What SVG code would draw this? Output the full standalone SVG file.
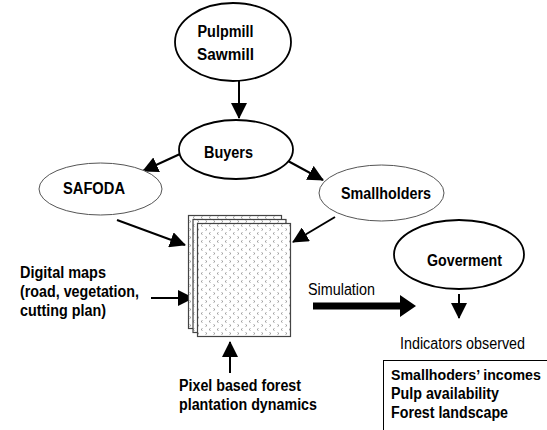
<svg xmlns="http://www.w3.org/2000/svg" width="547" height="430" viewBox="0 0 547 430">
<style>
.bg{fill:#fff}
.strong{fill:#fff;stroke:#000;stroke-width:1.8}
.thin{fill:#fff;stroke:#555;stroke-width:1}
.lbl{font-family:"Liberation Sans",Arial,sans-serif;font-size:16px;font-weight:bold;fill:#000}
.reg{font-family:"Liberation Sans",Arial,sans-serif;font-size:16px;fill:#000}
.conn{stroke:#000;stroke-width:2;fill:none;marker-end:url(#ah)}
.sheet{fill:url(#dots);stroke:#444;stroke-width:1.2}
</style>
<defs>
<marker id="ah" viewBox="0 0 16 16" markerWidth="16" markerHeight="16" refX="15" refY="8" orient="auto" markerUnits="userSpaceOnUse">
<path d="M0,0 L16,8 L0,16 Z" fill="#000"/>
</marker>
<pattern id="dots" width="8" height="8" patternUnits="userSpaceOnUse">
<rect width="8" height="8" fill="#fff"/>
<path d="M2.5,0.5 L1,1.5 L2.5,2.5" stroke="#888" stroke-width="0.8" fill="none"/>
<path d="M5.5,4.5 L7,5.5 L5.5,6.5" stroke="#888" stroke-width="0.8" fill="none"/>
</pattern>
</defs>
<rect class="bg" width="547" height="430"/>

<g id="connectors">
<line class="conn" x1="239" y1="81" x2="239" y2="118"/>
<line class="conn" x1="180" y1="154" x2="143" y2="171"/>
<line class="conn" x1="288" y1="161" x2="323" y2="180"/>
<line class="conn" x1="117" y1="220" x2="185" y2="245"/>
<line class="conn" x1="335" y1="217" x2="293" y2="242"/>
<line class="conn" x1="151" y1="298" x2="193" y2="298"/>
<line class="conn" x1="230" y1="373" x2="230" y2="342"/>
<line class="conn" x1="459" y1="294" x2="459" y2="318"/>
<polygon points="313,302.5 400,302.5 400,295 416,306 400,317 400,309.5 313,309.5" fill="#000"/>
</g>

<g id="pulpmill">
<ellipse class="strong" cx="233" cy="42" rx="58" ry="39"/>
<text class="lbl" x="225.5" y="37" text-anchor="middle" textLength="56" lengthAdjust="spacingAndGlyphs">Pulpmill</text>
<text class="lbl" x="225.5" y="60" text-anchor="middle" textLength="57" lengthAdjust="spacingAndGlyphs">Sawmill</text>
</g>

<g id="buyers">
<ellipse class="strong" cx="236" cy="149.5" rx="57" ry="29.5"/>
<text class="lbl" x="228.5" y="158" text-anchor="middle" textLength="49" lengthAdjust="spacingAndGlyphs">Buyers</text>
</g>

<g id="safoda">
<ellipse class="thin" cx="100.5" cy="189" rx="61.5" ry="26"/>
<text class="lbl" x="94" y="194" text-anchor="middle" textLength="62" lengthAdjust="spacingAndGlyphs">SAFODA</text>
</g>

<g id="smallholders">
<ellipse class="thin" cx="381.5" cy="193" rx="62.5" ry="28"/>
<text class="lbl" x="386" y="199" text-anchor="middle" textLength="90" lengthAdjust="spacingAndGlyphs">Smallholders</text>
</g>

<g id="goverment">
<ellipse class="strong" cx="459" cy="254.5" rx="65" ry="34.5"/>
<text class="lbl" x="464.5" y="266" text-anchor="middle" textLength="75" lengthAdjust="spacingAndGlyphs">Goverment</text>
</g>

<g id="stack">
<rect class="sheet" x="188.5" y="215.5" width="93" height="113"/>
<rect class="sheet" x="193" y="219.5" width="93" height="113"/>
<rect class="sheet" x="197.5" y="223.5" width="93" height="113"/>
</g>

<g id="digital-maps">
<text class="lbl" x="20" y="278" textLength="86" lengthAdjust="spacingAndGlyphs">Digital maps</text>
<text class="lbl" x="20" y="297" textLength="119" lengthAdjust="spacingAndGlyphs">(road, vegetation,</text>
<text class="lbl" x="20" y="316" textLength="86" lengthAdjust="spacingAndGlyphs">cutting plan)</text>
</g>

<g id="pixel">
<text class="lbl" x="179" y="391" textLength="122" lengthAdjust="spacingAndGlyphs">Pixel based forest</text>
<text class="lbl" x="179" y="410" textLength="138" lengthAdjust="spacingAndGlyphs">plantation dynamics</text>
</g>

<g id="simulation">
<text class="reg" x="308" y="295" textLength="67" lengthAdjust="spacingAndGlyphs">Simulation</text>
</g>

<g id="indicators">
<text class="reg" x="400" y="349" textLength="125" lengthAdjust="spacingAndGlyphs">Indicators observed</text>
</g>

<g id="indicator-box">
<rect x="383.5" y="360.5" width="170" height="80" fill="#fff" stroke="#000" stroke-width="1"/>
<text class="lbl" x="391" y="380" style="font-size:14.2px">Smallhoders’ incomes</text>
<text class="lbl" x="391" y="399" textLength="108" lengthAdjust="spacingAndGlyphs">Pulp availability</text>
<text class="lbl" x="391" y="418" textLength="117" lengthAdjust="spacingAndGlyphs">Forest landscape</text>
</g>
</svg>
